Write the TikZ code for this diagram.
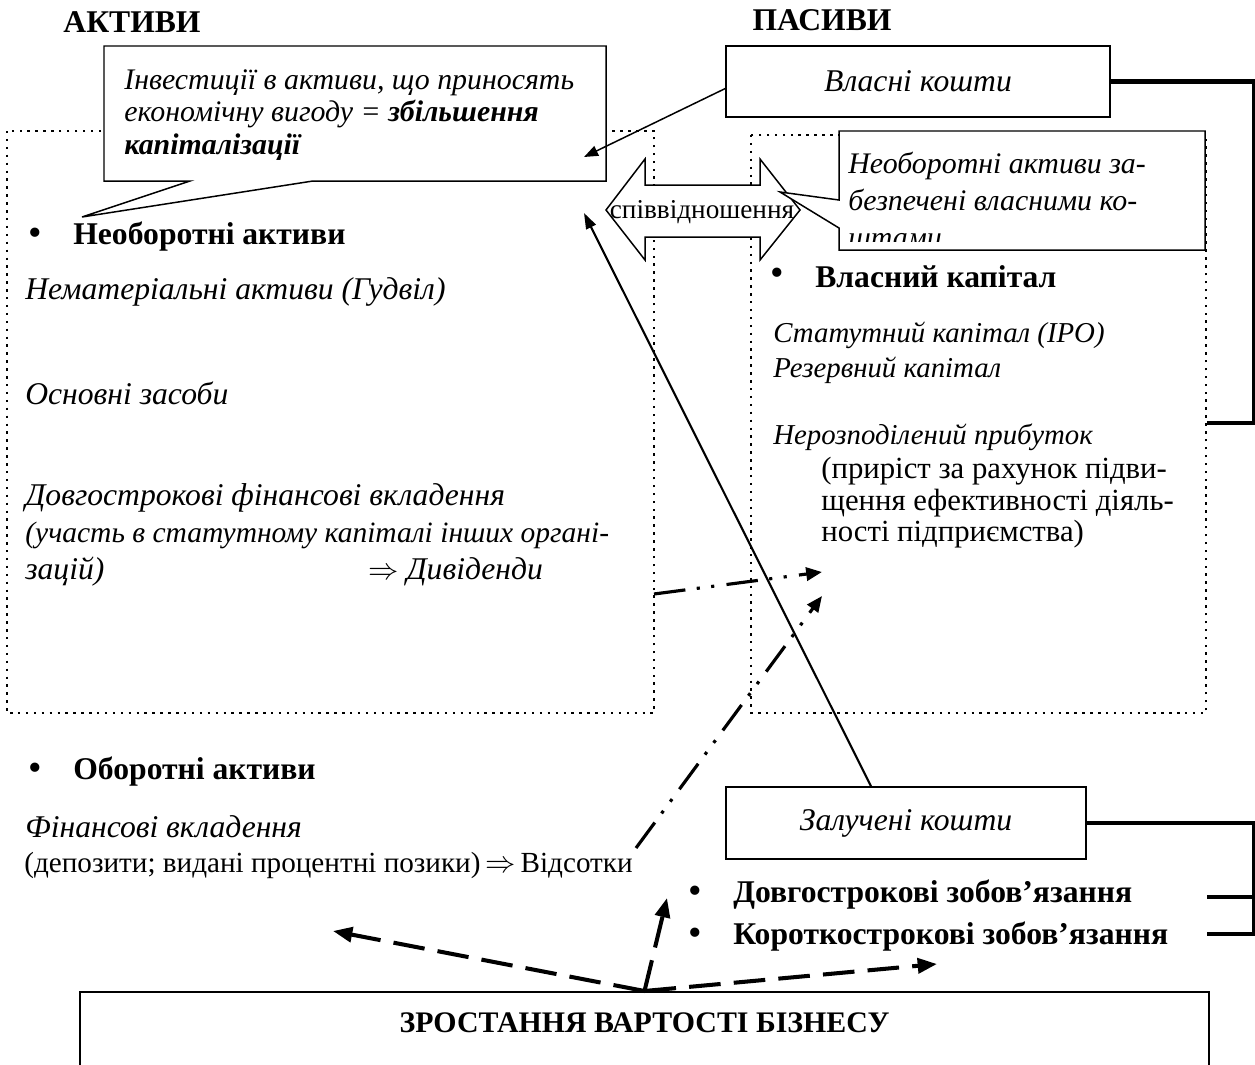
\documentclass[tikz,border=0pt]{standalone}
\usepackage{fontspec}
\setmainfont{Liberation Serif}
\usetikzlibrary{arrows.meta,calc}
\tikzset{
  every node/.style={inner sep=0pt},
  body/.style={anchor=west,font=\fontsize{18}{21}\selectfont},
  bodyit/.style={body,font=\fontsize{18}{21}\selectfont\itshape},
  bodyits/.style={body,font=\fontsize{16.4}{21}\selectfont\itshape},
  bodybf/.style={body,font=\fontsize{18}{21}\selectfont\bfseries},
  callit/.style={anchor=north west,align=left,font=\fontsize{17}{18.6}\selectfont\itshape},
  frame/.style={draw,line width=0.85pt,fill=white},
  dotframe/.style={line width=1.4pt,dash pattern=on 1.4pt off 3.1pt},
  brace/.style={line width=2.3pt},
  thinarrow/.style={line width=0.85pt,-{Triangle[length=8pt,width=6pt]}},
  solidarrow/.style={line width=1.2pt,-{Triangle[length=9pt,width=6pt]}},
  dashdotarrow/.style={line width=1.8pt,
    dash pattern=on 18pt off 6.5pt on 1.8pt off 6.5pt on 1.8pt off 7pt,
    -{Triangle[length=9pt,width=7.5pt]}},
  dasharrow/.style={line width=2.3pt,dash pattern=on 18pt off 7.5pt,
    -{Triangle[length=11pt,width=8.5pt]}}
}
\newcommand{\bullitem}[4]{%
  % bullet first, bold caption 38 units to the right
  \node[anchor=center,font=\fontsize{22}{22}\selectfont] (#1dot) at (#2,#3) {•};
  \node[bodybf] (#1) at (#2+38,#3) {#4};
}

\begin{document}
\begin{tikzpicture}[x=0.02cm,y=-0.02cm]
  \useasboundingbox (0,0) rectangle (1255,1065);
  \node[bodybf,anchor=center] (aktyvy) at (132,22) {АКТИВИ};
  \node[bodybf,anchor=center] (pasyvy) at (822,20) {ПАСИВИ};

  \draw[dotframe] (7,131) rectangle (654,713);
  \draw[dotframe] (751,135) rectangle (1206,713);

  % callout over the assets
  \draw[frame] (104,46) -- (606,46) -- (606,181) -- (313,181) -- (82,217)
    -- (190,181) -- (104,181) -- cycle;
  \node[callit] (invest) at (124,69)
    {Інвестиції в активи, що приносять\\економічну вигоду = \textbf{збільшення}\\\textbf{капіталізації}};

  \draw[frame] (606,210) -- (645,159) -- (645,185) -- (760,185) -- (760,159)
    -- (800,210) -- (760,260) -- (760,237) -- (645,237) -- (645,260) -- cycle;
  \node[font=\fontsize{15.5}{15.5}\selectfont] (ratio) at (702,212) {співвідношення};

  \draw[frame] (839,131) -- (1205,131) -- (1205,250) -- (839,250) -- (839,228)
    -- (780,192) -- (839,200) -- cycle;
  \begin{scope}
    \clip (839,131) rectangle (1205,241);
    \node[callit,font=\fontsize{17}{21}\selectfont\itshape] (secured) at (848,152)
      {Необоротні активи за-\\безпечені власними ко-\\штами};
  \end{scope}

  \node[frame,minimum width=7.68cm,minimum height=1.42cm,
    font=\fontsize{18}{21}\selectfont\itshape] (vk) at (918,81.5) {Власні кошти};

  \bullitem{noncur}{35}{237}{Необоротні активи}
  \node[bodyit] (intang) at (25,292) {Нематеріальні активи (Гудвіл)};
  \node[bodyit] (fixed) at (25,393) {Основні засоби};
  \node[bodyit] (ltfin) at (25,498) {Довгострокові фінансові вкладення};
  \node[bodyits,font=\fontsize{16.8}{21}\selectfont\itshape] (ltfinb) at (25,535)
    {(участь в статутному капіталі інших органі-};
  \node[bodyit] (ltfinc) at (25,572) {зацій)};
  \node[bodyit] (divid) at (368,572) {$\Rightarrow$\ Дивіденди};

  \bullitem{equity}{777}{277}{Власний капітал}
  \node[bodyits] (charter) at (773,335) {Статутний капітал (IPO)};
  \node[bodyits] (reserve) at (773,370) {Резервний капітал};
  \node[bodyits] (retained) at (773,437) {Нерозподілений прибуток};
  \node[anchor=north west,align=left,font=\fontsize{17.5}{17.9}\selectfont] (raise) at (821,457)
    {(приріст за рахунок підви-\\щення ефективності діяль-\\ності підприємства)};

  \bullitem{current}{35}{772}{Оборотні активи}
  \node[bodyit] (finv) at (25,827) {Фінансові вкладення};
  \node[body,font=\fontsize{16.6}{21}\selectfont] (deposit) at (24,865)
    {(депозити; видані процентні позики)\,$\Rightarrow$\,Відсотки};

  \node[frame,minimum width=7.2cm,minimum height=1.44cm,
    font=\fontsize{18}{21}\selectfont\itshape] (zk) at (906,823) {Залучені кошти};
  \bullitem{longterm}{695}{895}{Довгострокові зобов’язання}
  \bullitem{shortterm}{695}{937}{Короткострокові зобов’язання}

  \node[frame,anchor=north,minimum width=22.58cm,minimum height=1.8cm] (growth) at (644.5,991) {};
  \node[bodybf,anchor=center,font=\fontsize{17}{21}\selectfont\bfseries] (growthtxt) at (644.5,1023)
    {ЗРОСТАННЯ ВАРТОСТІ БІЗНЕСУ};

  \coordinate (eqjoin) at (1207,423);
  \coordinate (ltjoin) at (1207,897);
  \coordinate (stjoin) at (1207,934);
  \draw[brace] (vk.east) -- ++(143,0) |- (eqjoin);
  \draw[brace] (zk.east) -- ++(167,0) |- (stjoin);
  \draw[brace] (ltjoin) -- ++(46,0);

  \coordinate (invtip) at (584,157);
  \coordinate (ncatip) at (584,213);
  \coordinate (divstart) at (654,594);
  \coordinate (divtip) at (822,572);
  \coordinate (pctstart) at (636,848);
  \coordinate (pcttip) at (822,596);
  \coordinate (gleft) at (333,931);
  \coordinate (gup) at (667,898);
  \coordinate (gright) at (937,964);

  \draw[thinarrow] ($(vk.west)+(0,7)$) -- (invtip);
  \draw[dashdotarrow] (divstart) -- (divtip);
  \draw[dashdotarrow] (pctstart) -- (pcttip);
  \draw[solidarrow] ($(zk.north)+(-35,0)$) -- (ncatip);
  \draw[dasharrow] (growth.north) -- (gleft);
  \draw[dasharrow] (growth.north) -- (gup);
  \draw[dasharrow] (growth.north) -- (gright);
\end{tikzpicture}
\end{document}
